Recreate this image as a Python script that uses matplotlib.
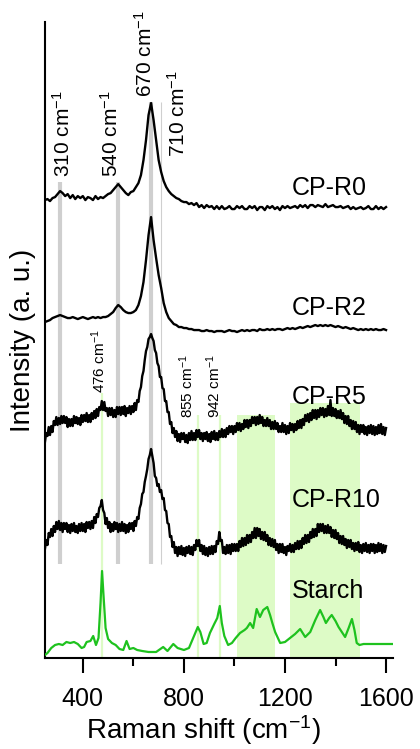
#!/usr/bin/env python3
"""
Raman stack plot – CP-R series vs. starch
-----------------------------------------
Stacked Raman spectra of the CP-R samples with the starch reference
spectrum underneath. Band positions are marked with grey (CP) and
light-green (starch) guides. Writes out.png.
"""
import numpy as np
import matplotlib
matplotlib.use("Agg")
import matplotlib.pyplot as plt
from matplotlib.ticker import MultipleLocator


# -----------------------------
# Data
# -----------------------------

# CP-R0 / CP-R2: 10 cm^-1 steps, 250..1600
shift = np.arange(250, 1601, 10)
# CP-R5 / CP-R10 (noisier runs): 5 cm^-1 steps, 250..1600
shift_fine = np.arange(250, 1601, 5)

cp_r0 = [
    8, 9, 7, 10, 11, 14, 17, 15, 12, 14,
    10, 13, 9, 12, 10, 12, 8, 11, 10, 8,
    12, 9, 11, 10, 12, 14, 15, 18, 21, 24,
    21, 18, 15, 13, 16, 17, 21, 25, 33, 48,
    68, 93, 105, 88, 68, 48, 36, 27, 21, 17,
    14, 12, 10, 9, 7, 6, 6, 4, 5, 3,
    5, 1, 3, 0, 3, 1, 2, -1, 2, -1,
    2, -1, 0, 2, -1, -1, 2, 0, 2, -1,
    -1, 2, 0, 2, -2, 1, 1, -2, 2, 0,
    2, -1, 1, -2, 2, 0, 2, 0, 1, 2,
    0, 3, 1, 3, 0, 3, 3, 1, 3, 2,
    1, 4, 1, 2, 3, 1, 1, 2, 0, 1,
    2, -1, 1, -1, 0, 1, -1, 0, 2, -1,
    -1, 2, -1, 1, -1, 1,
]

cp_r2 = [
    11, 12, 13, 15, 16, 17, 18, 17, 16, 15,
    15, 16, 15, 14, 15, 16, 15, 14, 15, 16,
    15, 16, 15, 16, 16, 17, 19, 21, 25, 28,
    26, 23, 21, 20, 20, 21, 23, 28, 37, 51,
    73, 98, 116, 93, 75, 58, 45, 30, 21, 15,
    12, 9, 8, 6, 6, 5, 5, 4, 4, 3,
    3, 3, 2, 2, 3, 2, 2, 1, 2, 2,
    2, 1, 2, 3, 2, 2, 1, 2, 3, 2,
    3, 2, 3, 3, 2, 4, 3, 3, 4, 3,
    4, 3, 4, 4, 3, 4, 5, 4, 5, 4,
    5, 6, 5, 6, 7, 6, 7, 8, 7, 8,
    7, 8, 7, 8, 7, 6, 7, 6, 5, 6,
    5, 4, 5, 4, 3, 4, 3, 4, 3, 4,
    3, 4, 3, 3, 4, 3,
]

cp_r5 = [
    1, 10, 7, 16, 8, 17, 11, 22, 18, 26, 18, 25, 19, 27, 20, 27, 20, 26, 16, 24,
    17, 24, 17, 27, 20, 26, 19, 25, 18, 28, 21, 28, 22, 30, 21, 28, 21, 30, 24, 32,
    25, 34, 27, 36, 33, 42, 33, 41, 32, 35, 27, 35, 28, 35, 26, 33, 26, 36, 29, 36,
    28, 36, 29, 37, 27, 35, 30, 37, 29, 37, 31, 40, 33, 43, 41, 52, 56, 67, 72, 83,
    92, 96, 104, 106, 109, 105, 102, 93, 90, 80, 77, 66, 66, 55, 54, 42, 42, 31, 31, 19,
    21, 10, 15, 6, 12, 2, 9, 1, 10, 4, 10, 1, 8, 0, 10, 3, 12, 3, 10, 3,
    13, 6, 13, 4, 10, 2, 10, 4, 11, 2, 9, 1, 11, 4, 12, 3, 10, 3, 12, 6,
    14, 6, 13, 6, 15, 9, 17, 11, 17, 9, 17, 11, 20, 13, 20, 12, 19, 14, 23, 16,
    23, 15, 23, 17, 26, 20, 26, 18, 26, 19, 28, 20, 26, 17, 23, 17, 25, 17, 23, 14,
    21, 14, 22, 14, 20, 11, 17, 11, 20, 11, 18, 9, 17, 10, 20, 13, 19, 11, 19, 13,
    22, 15, 23, 15, 24, 18, 28, 22, 29, 21, 30, 23, 33, 25, 33, 24, 33, 26, 35, 28,
    35, 26, 34, 27, 37, 28, 43, 27, 35, 27, 34, 25, 32, 25, 33, 24, 30, 20, 27, 19,
    27, 17, 23, 14, 22, 14, 21, 11, 18, 9, 18, 11, 18, 9, 16, 8, 17, 10, 18, 9,
    17, 8, 16, 9, 18, 10, 19, 9, 16, 8, 15,
]

cp_r10 = [
    9, 18, 13, 25, 21, 29, 22, 32, 26, 36, 29, 37, 28, 35, 26, 35, 29, 35, 26, 33,
    25, 34, 27, 35, 26, 32, 25, 34, 27, 35, 27, 34, 26, 36, 30, 36, 29, 37, 30, 41,
    35, 44, 41, 50, 52, 58, 48, 45, 34, 40, 30, 36, 26, 34, 27, 36, 29, 35, 26, 34,
    27, 36, 27, 34, 25, 33, 26, 35, 29, 35, 27, 37, 32, 41, 39, 50, 54, 64, 66, 76,
    82, 89, 99, 103, 109, 102, 95, 82, 80, 72, 74, 66, 68, 59, 60, 48, 47, 35, 34, 21,
    22, 11, 16, 5, 11, 2, 11, 4, 12, 3, 10, 2, 11, 5, 12, 4, 11, 3, 13, 8,
    18, 12, 18, 7, 13, 4, 12, 3, 10, 2, 11, 4, 12, 4, 12, 6, 17, 14, 26, 17,
    18, 5, 11, 4, 13, 5, 13, 4, 14, 7, 14, 7, 14, 7, 17, 11, 20, 12, 20, 13,
    23, 15, 23, 16, 26, 20, 30, 20, 30, 22, 29, 19, 26, 18, 26, 17, 23, 13, 20, 12,
    19, 11, 18, 8, 14, 5, 14, 6, 14, 5, 11, 3, 12, 7, 14, 6, 13, 6, 15, 9,
    17, 9, 17, 10, 20, 14, 23, 15, 23, 16, 26, 20, 29, 21, 29, 22, 34, 26, 34, 27,
    34, 25, 32, 25, 33, 25, 31, 21, 28, 20, 28, 19, 25, 15, 22, 14, 22, 13, 19, 10,
    18, 11, 18, 9, 15, 7, 15, 8, 16, 6, 13, 5, 14, 7, 15, 6, 13, 5, 14, 7,
    14, 5, 13, 6, 15, 7, 14, 5, 13, 6, 12,
]

# starch reference, read on its own (uneven) grid
starch_shift = [
    250, 260, 275, 290, 305, 320, 335, 350, 365, 380,
    395, 405, 415, 430, 441, 452, 462, 470, 476, 482,
    490, 500, 515, 530, 545, 560, 573, 585, 600, 615,
    635, 660, 690, 718, 735, 758, 775, 800, 820, 840,
    855, 865, 878, 890, 903, 920, 932, 942, 950, 960,
    975, 990, 1005, 1022, 1040, 1049, 1062, 1074, 1088, 1101,
    1114, 1130, 1141, 1150, 1161, 1181, 1200, 1220, 1240, 1260,
    1280, 1300, 1320, 1339, 1352, 1362, 1375, 1385, 1400, 1412,
    1438, 1452, 1465, 1475, 1484, 1495, 1511, 1550, 1600, 1625,
]
starch = [
    3, 5, 10, 13, 14, 13, 16, 15, 16, 14,
    10, 11, 16, 17, 22, 13, 20, 55, 87, 62,
    30, 19, 15, 13, 9, 8, 17, 9, 10, 8,
    7, 6, 6, 11, 7, 14, 10, 8, 10, 22,
    31, 26, 14, 15, 25, 34, 40, 52, 35, 22,
    13, 15, 20, 25, 28, 30, 35, 30, 49, 41,
    48, 51, 43, 35, 26, 15, 16, 20, 24, 29,
    21, 26, 38, 48, 41, 35, 40, 43, 37, 31,
    21, 30, 39, 28, 15, 13, 14, 14, 14, 14,
]

samples = ["CP-R0", "CP-R2", "CP-R5", "CP-R10"]
sample_offsets = [450, 325, 215, 100]

# band guides (cm^-1)
cp_bands = [310, 540, 670]
cp_band_710 = 710
starch_bands = [476, 855, 942]
starch_regions = [(1010, 1160), (1220, 1495)]


# -----------------------------
# Plot
# -----------------------------

def main():
    plt.rcParams["font.family"] = ["Liberation Sans", "DejaVu Sans"]
    plt.rcParams["mathtext.fontset"] = "custom"
    plt.rcParams["mathtext.rm"] = "Liberation Sans"
    plt.rcParams["mathtext.it"] = "Liberation Sans"

    fig = plt.figure(figsize=(4.2, 7.49), dpi=100)
    ax = fig.add_axes([0.107, 0.1215, 0.829, 0.849])

    green_fill = "#ddfbc6"
    grey = "#cfcfcf"

    # starch regions + single starch bands
    for lo, hi in starch_regions:
        top = 243 if lo < 1200 else 255
        ax.fill_between([lo, hi], 0, top, color=green_fill, lw=0, zorder=0)
    ax.vlines(starch_bands[0], 0, 265, color=green_fill, lw=1.6, zorder=0)
    ax.vlines(starch_bands[1:], 0, 243, color=green_fill, lw=1.6, zorder=0)

    # CP band guides
    ax.vlines(cp_bands[:2], 94, 476, color=grey, lw=3.0, zorder=1)
    ax.vlines(cp_bands[2], 94, 556, color=grey, lw=3.0, zorder=1)
    ax.vlines(cp_band_710, 94, 556, color=grey, lw=0.8, zorder=1)

    # spectra
    grids = [shift, shift, shift_fine, shift_fine]
    spectra = [cp_r0, cp_r2, cp_r5, cp_r10]
    for x, y, off in zip(grids, spectra, sample_offsets):
        ax.plot(x, np.asarray(y) + off, color="black", lw=1.7, zorder=3)
    ax.plot(starch_shift, starch, color="#1ec21e", lw=1.6, zorder=3)

    # sample names
    name_y = [463, 343, 254, 151]
    for name, yy in zip(samples, name_y):
        ax.text(1228, yy, name, fontsize=18, ha="left", va="baseline")
    ax.text(1228, 60, "Starch", fontsize=18, ha="left", va="baseline")

    # band labels
    big = [("310", 321, 481), ("540", 509, 481), ("670", 646, 561), ("710", 775, 501)]
    for lab, x, y in big:
        ax.text(x, y, lab + r" cm$^{-1}$", rotation=90, ha="center", va="bottom", fontsize=15)
    small = [("476", 462, 265), ("855", 812, 240), ("942", 919, 240)]
    for lab, x, y in small:
        ax.text(x, y, lab + r" cm$^{-1}$", rotation=90, ha="center", va="bottom", fontsize=11)

    # axes
    ax.set_xlim(250, 1628)
    ax.set_ylim(0, 636)
    ax.spines["top"].set_visible(False)
    ax.spines["right"].set_visible(False)
    ax.spines["left"].set_linewidth(1.5)
    ax.spines["bottom"].set_linewidth(1.5)
    ax.set_yticks([])
    ax.xaxis.set_major_locator(MultipleLocator(400))
    ax.xaxis.set_minor_locator(MultipleLocator(200))
    ax.set_xticks([400, 800, 1200, 1600])
    ax.tick_params(axis="x", which="major", direction="out", length=11, width=1.5,
                   labelsize=18, pad=10)
    ax.tick_params(axis="x", which="minor", direction="out", length=6, width=1.5)

    ax.set_xlabel(r"Raman shift (cm$^{-1}$)", fontsize=20)
    ax.xaxis.set_label_coords(0.455, -0.087)
    ax.xaxis.label.set_va("top")
    ax.set_ylabel("Intensity (a. u.)", fontsize=20)
    ax.yaxis.set_label_coords(-0.025, 0.5)

    fig.savefig("out.png", dpi=100)


if __name__ == "__main__":
    main()
